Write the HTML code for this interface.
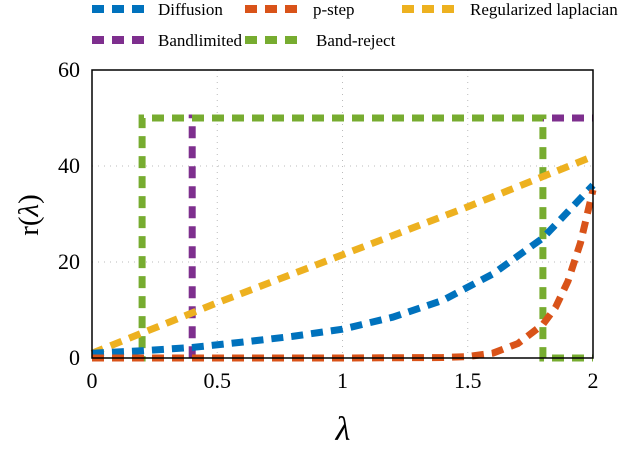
<!DOCTYPE html>
<html><head><meta charset="utf-8"><style>
body{margin:0;background:#fff}
svg{display:block;font-family:"Liberation Serif",serif}
</style></head><body>
<svg width="640" height="472" viewBox="0 0 640 472" xmlns="http://www.w3.org/2000/svg">
<g id="grid"></g>
<g id="series"></g>
<rect x="92" y="70" width="501" height="288" fill="none" stroke="#000" stroke-width="1.5"/>
<g id="ticks"></g>
<text transform="translate(38,215) rotate(-90)" text-anchor="middle" font-size="29">r(<tspan font-style="italic">λ</tspan>)</text>
<text x="343" y="440" text-anchor="middle" font-size="34" font-style="italic">λ</text>
<g id="legend" font-size="17"></g>
</svg>
<script>
const xTicks=[0,0.5,1,1.5,2];
const xTickLabels=["0","0.5","1","1.5","2"];
const yTicks=[0,20,40,60];
const yTickLabels=["0","20","40","60"];
const seriesNames=["Diffusion","p-step","Regularized laplacian","Bandlimited","Band-reject"];
const colors=["#0072bd","#d95319","#edb120","#7e2f8e","#77ac30"];
const diffX=[0,0.2,0.4,0.6,0.8,1.0,1.2,1.4,1.6,1.8,2.0];
const diffY=[1,1.5,2.2,3.3,4.5,6,8.5,12,17.5,25,36];
const pstepX=[0,0.5,1.0,1.4,1.5,1.6,1.7,1.8,1.85,1.9,1.95,2.0];
const pstepY=[0,0,0,0.1,0.3,1,3,7,10.5,16,24,35];
const regX=[0,0.5,1.0,1.5,2.0];
const regY=[1,11.5,21.5,31.5,42];
const bandX=[0,0.4,0.4,2.0];
const bandY=[0,0,50,50];
const rejX=[0,0.2,0.2,1.8,1.8,2.0];
const rejY=[0,0,50,50,0,0];
const NS="http://www.w3.org/2000/svg";
const sx=v=>92+v/2*501, sy=v=>358-v/60*288;
function mk(tag,parent){const e=document.createElementNS(NS,tag);document.getElementById(parent).appendChild(e);return e;}
xTicks.forEach((t,i)=>{
 if(i>0&&i<xTicks.length-1){const g=mk('line','grid');
 
 
 g.setAttribute('x1',sx(t));g.setAttribute('x2',sx(t));g.setAttribute('y1',70);g.setAttribute('y2',358);g.setAttribute('stroke','#bbb');g.setAttribute('stroke-dasharray','1 5');}
 const l=mk('text','ticks');
 
 
 l.setAttribute('x',sx(t));l.setAttribute('y',388);l.setAttribute('text-anchor','middle');l.setAttribute('font-size','22');l.textContent=xTickLabels[i];
});
yTicks.forEach((t,i)=>{
 if(i>0&&i<yTicks.length-1){const g=mk('line','grid');
 
 
 g.setAttribute('x1',92);g.setAttribute('x2',593);g.setAttribute('y1',sy(t));g.setAttribute('y2',sy(t));g.setAttribute('stroke','#bbb');g.setAttribute('stroke-dasharray','1 5');}
 const l=mk('text','ticks');
 
 
 l.setAttribute('x',80);l.setAttribute('y',sy(t)+7);l.setAttribute('text-anchor','end');l.setAttribute('font-size','22');l.textContent=yTickLabels[i];
});
const data=[[diffX,diffY],[pstepX,pstepY],[regX,regY],[bandX,bandY],[rejX,rejY]];
const names=['diffusion-line','p-step-line','regularized-laplacian-line','bandlimited-line','band-reject-line'];
[3,4,2,0,1].forEach(k=>{
 const p=mk('polyline','series');
 
 
 p.setAttribute('points',data[k][0].map((x,i)=>sx(x)+','+sy(data[k][1][i])).join(' '));
 p.setAttribute('fill','none');p.setAttribute('stroke',colors[k]);p.setAttribute('stroke-width','7');p.setAttribute('stroke-dasharray','12 8');
});
const leg=[[92,158,9],[245,313,9],[402,470,9],[92,158,40],[245,316,40]];
leg.forEach((L,k)=>{
 const s=mk('line','legend');
 
 
 s.setAttribute('x1',L[0]);s.setAttribute('x2',L[0]+52);s.setAttribute('y1',L[2]);s.setAttribute('y2',L[2]);s.setAttribute('stroke',colors[k]);s.setAttribute('stroke-width','8');s.setAttribute('stroke-dasharray','12 8');
 const t=mk('text','legend');
 
 
 t.setAttribute('x',L[1]);t.setAttribute('y',L[2]+6);t.textContent=seriesNames[k];
});
</script>
</body></html>
